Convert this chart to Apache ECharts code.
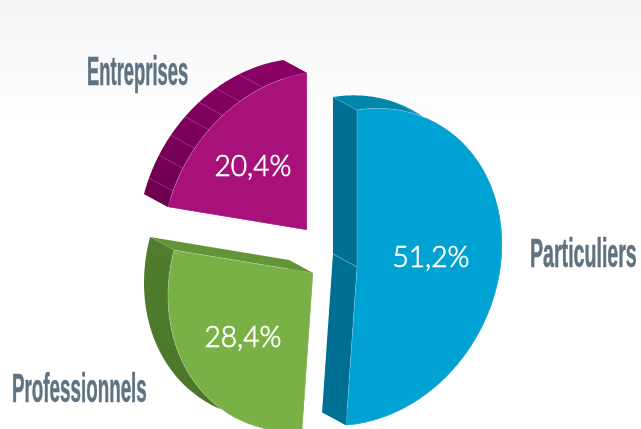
<!DOCTYPE html>
<html>
<head>
<meta charset="utf-8">
<style>html,body{margin:0;padding:0;background:#fff}#chart{width:641px;height:429px}</style>
<script src="https://cdn.jsdelivr.net/npm/echarts@6/dist/echarts.min.js"></script>
</head>
<body>
<div id="chart"></div>
<script>
// Customer split, in percent
const categories = ['Particuliers', 'Professionnels', 'Entreprises'];
const shares = [51.2, 28.4, 20.4];

// Where each exploded slice has its apex
const apexes = [[357, 267], [313, 273], [307, 230]];
const valueLabelAt = [[431, 258], [243, 338], [253, 167]];
const nameLabelAt = [[530, 256], [12, 391], [87, 74]];
const nameScale = [0.49, 0.47, 0.46];

// Slice colours
const topColors = ['#00a2d4', '#7ab147', '#a8107a'];
const rimColors = [['#0087ac', '#007094'], ['#4f7c2d', '#4c772b'], ['#8b0066', '#6b004e']];
const cutColors = [['#006f94', '#006f94'], ['#4f7c2d', '#639435'], ['#7a005a', '#7a005a']];

// Facet lines on the rim, in degrees from each slice's first edge
const rimSeams = [[26], [], [5.9, 14.6, 22.7, 30.9, 38, 45.9, 55.7]];

// Projection of the tilted disc onto the page
const RX = 145, RY = 157, SHEAR = -22.8;
const DEPTH = [-24, -13];
const EDGE = 'rgba(255,255,255,0.34)';

function project(apex, deg) {
  const t = deg * Math.PI / 180, s = Math.sin(t), c = Math.cos(t);
  return [apex[0] + RX * s, apex[1] - RY * c + SHEAR * s];
}
const back = p => [p[0] + DEPTH[0], p[1] + DEPTH[1]];

function arc(apex, from, to) {
  const pts = [];
  const n = Math.ceil(Math.abs(to - from) * 2);
  for (let i = 0; i <= n; i++) pts.push(project(apex, from + (to - from) * i / n));
  return pts;
}

const total = shares.reduce((a, b) => a + b, 0);
const starts = shares.map((_, i) => shares.slice(0, i).reduce((a, b) => a + b, 0) / total * 360);

function edgeLine(a, b) {
  return { type: 'polyline', shape: { points: [a, b] }, style: { fill: null, stroke: EDGE, lineWidth: 0.6 } };
}

function renderSlice(params) {
  const i = params.dataIndex;
  const apex = apexes[i];
  const from = starts[i], to = from + shares[i] / total * 360;
  const outer = arc(apex, from, to);
  const first = outer[0], last = outer[outer.length - 1];
  const children = [];

  // flat cut faces running back from the two straight edges
  [first, last].forEach((p, k) => {
    children.push({
      type: 'polygon',
      shape: { points: [apex, p, back(p), back(apex)] },
      style: { fill: cutColors[i][k] }
    });
    children.push(edgeLine(p, back(p)));
    children.push(edgeLine(apex, back(apex)));
  });

  // curved rim
  children.push({
    type: 'polygon',
    shape: { points: outer.concat(outer.map(back).reverse()) },
    style: {
      fill: new echarts.graphic.LinearGradient(0, 0, 0, 1, [
        { offset: 0, color: rimColors[i][0] },
        { offset: 1, color: rimColors[i][1] }
      ])
    }
  });
  rimSeams[i].forEach(d => {
    const p = project(apex, from + d);
    children.push(edgeLine(p, back(p)));
  });

  // top face
  children.push({
    type: 'polygon',
    shape: { points: [apex].concat(outer) },
    style: { fill: topColors[i], stroke: EDGE, lineWidth: 0.6 }
  });

  // percentage on the face
  children.push({
    type: 'text',
    x: valueLabelAt[i][0], y: valueLabelAt[i][1],
    scaleX: 0.97,
    style: {
      text: shares[i].toFixed(1).replace('.', ',') + '%',
      font: '300 29px Lato',
      fill: '#ffffff', stroke: '#ffffff', lineWidth: 0.7,
      align: 'center', verticalAlign: 'middle'
    }
  });
  return { type: 'group', children };
}

function renderName(params) {
  const i = params.dataIndex;
  return {
    type: 'text',
    x: nameLabelAt[i][0], y: nameLabelAt[i][1],
    scaleX: nameScale[i],
    style: {
      text: categories[i],
      font: 'bold 40px "Liberation Sans Narrow", "Liberation Sans"',
      fill: '#5f7280', stroke: '#5f7280', lineWidth: 0.6,
      align: 'left', verticalAlign: 'middle'
    }
  };
}

const chart = echarts.init(document.getElementById('chart'), null, { renderer: 'canvas' });
chart.setOption({
  animation: false,
  backgroundColor: '#ffffff',
  graphic: [{
    type: 'rect', z: -10, silent: true,
    shape: { x: 0, y: 0, width: 641, height: 121 },
    style: {
      fill: new echarts.graphic.LinearGradient(0, 0, 0, 1, [
        { offset: 0, color: '#f4f5f7' },
        { offset: 1, color: '#fefefe' }
      ])
    }
  }],
  series: [
    { type: 'custom', coordinateSystem: 'none', silent: true, renderItem: renderSlice, data: shares },
    { type: 'custom', coordinateSystem: 'none', silent: true, renderItem: renderName, data: categories.map((_, i) => i) }
  ]
});
</script>
</body>
</html>
